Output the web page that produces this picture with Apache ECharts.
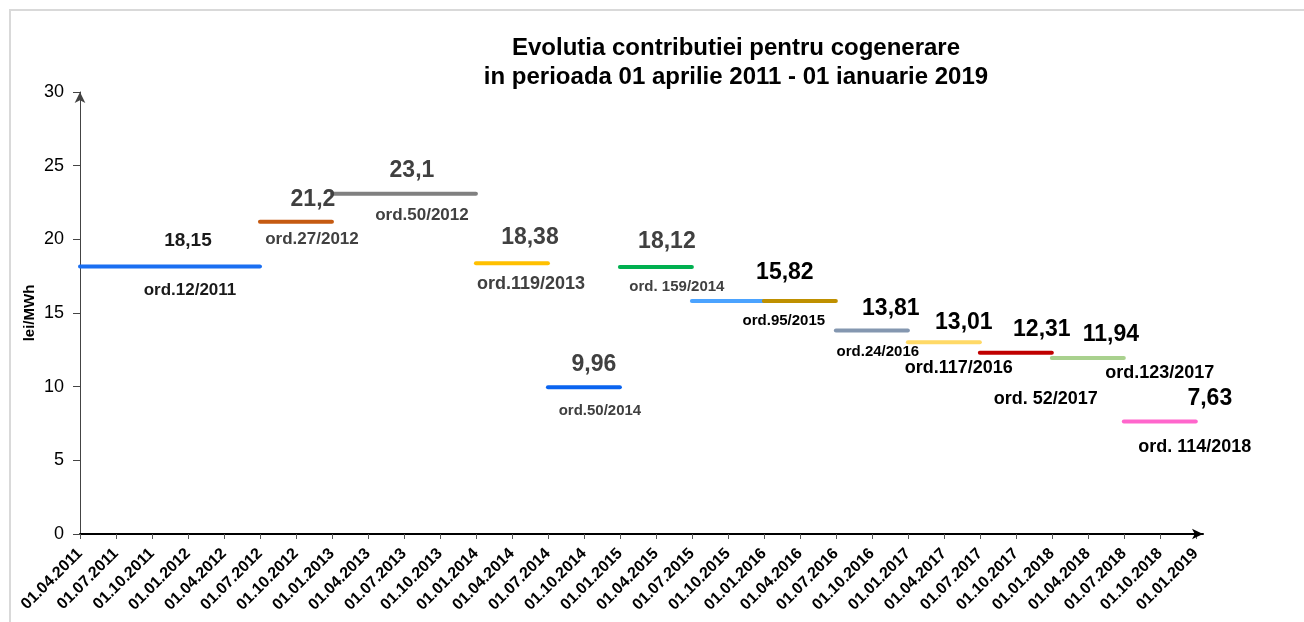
<!DOCTYPE html>
<html>
<head>
<meta charset="utf-8">
<title>Evolutia contributiei pentru cogenerare</title>
<script src="https://cdn.jsdelivr.net/npm/echarts@6/dist/echarts.min.js"></script>
<style>
  body {
    margin: 0;
    background: #fff;
  }
  .frame {
    position: absolute;
    left: 9px;
    top: 9px;
    width: 1295px;
    height: 613px;
    border-top: 2px solid #d9d9d9;
    border-left: 2px solid #d9d9d9;
  }
  #chart {
    position: absolute;
    left: 0;
    top: 0;
    width: 1304px;
    height: 622px;
  }
</style>
</head>
<body>
<div class="frame"></div>
<div id="chart"></div>
<script>
const quarterLabels = [
  "01.04.2011", "01.07.2011", "01.10.2011", "01.01.2012", "01.04.2012", "01.07.2012",
  "01.10.2012", "01.01.2013", "01.04.2013", "01.07.2013", "01.10.2013", "01.01.2014",
  "01.04.2014", "01.07.2014", "01.10.2014", "01.01.2015", "01.04.2015", "01.07.2015",
  "01.10.2015", "01.01.2016", "01.04.2016", "01.07.2016", "01.10.2016", "01.01.2017",
  "01.04.2017", "01.07.2017", "01.10.2017", "01.01.2018", "01.04.2018", "01.07.2018",
  "01.10.2018", "01.01.2019"
];

// each order: start quarter, end quarter (index in quarterLabels), value lei/MWh
const segStart = [0, 5, 7, 11, 13, 15, 17, 19, 21, 23, 25, 27, 29];
const segEnd = [5, 7, 11, 13, 15, 17, 19, 21, 23, 25, 27, 29, 31];
const segValues = [18.15, 21.2, 23.1, 18.38, 9.96, 18.12, 15.82, 15.82, 13.81, 13.01, 12.31, 11.94, 7.63];
const valueLabels = ["18,15", "21,2", "23,1", "18,38", "9,96", "18,12", "", "15,82", "13,81", "13,01", "12,31", "11,94", "7,63"];
const orderLabels = [
  "ord.12/2011", "ord.27/2012", "ord.50/2012", "ord.119/2013", "ord.50/2014", "ord. 159/2014", "",
  "ord.95/2015", "ord.24/2016", "ord.117/2016", "ord. 52/2017", "ord.123/2017", "ord. 114/2018"
];

const yTicks = [0, 5, 10, 15, 20, 25, 30];

// styles
const segColors = [
  "#1a6ff2", "#c55a11", "#808080", "#ffc000", "#0a64f0", "#00b050", "#4ba3ff",
  "#bf9000", "#8497b0", "#ffd966", "#c00000", "#a9d18e", "#ff66cc"
];
const valueOffsets = [[18, -26], [17, -22], [8, -23], [18, -26], [10, -23], [11, -25], [0, 0],
  [-15, -28], [19, -22], [20, -20], [26, -23], [23, -23], [50, -23]];
const orderOffsets = [[20, 24], [16, 18], [18, 22], [19, 21], [16, 24], [21, 20], [0, 0],
  [-16, 20], [6, 21], [15, 26], [30, 46], [72, 15], [35, 25]];
const valueSizes = [19, 23, 23, 23, 23, 23, 23, 23, 23, 23, 23, 23, 23];
const orderSizes = [17, 17, 17, 18, 15, 15, 15, 15, 15, 18, 18, 18, 18];
const textColors = ["#1a1a1a", "#404040", "#404040", "#404040", "#404040", "#404040", "#000",
  "#000", "#000", "#000", "#000", "#000", "#000"];

const FONT = "'Liberation Sans', Arial, sans-serif";

const chart = echarts.init(document.getElementById("chart"));

const series = segValues.map((v, i) => {
  const mid = (segStart[i] + segEnd[i]) / 2;
  const marks = [];
  if (valueLabels[i]) {
    marks.push({
      coord: [mid, v],
      label: {
        formatter: valueLabels[i],
        offset: valueOffsets[i],
        fontSize: valueSizes[i],
        color: textColors[i]
      }
    });
  }
  if (orderLabels[i]) {
    marks.push({
      coord: [mid, v],
      label: {
        formatter: orderLabels[i],
        offset: orderOffsets[i],
        fontSize: orderSizes[i],
        color: textColors[i]
      }
    });
  }
  return {
    type: "line",
    data: [[segStart[i], v], [segEnd[i], v]],
    symbol: "none",
    silent: true,
    animation: false,
    lineStyle: {
      width: 4,
      color: segColors[i],
      cap: "round"
    },
    markPoint: {
      symbol: "circle",
      symbolSize: 0,
      silent: true,
      animation: false,
      label: {
        show: true,
        position: "inside",
        fontFamily: FONT,
        fontWeight: "bold"
      },
      data: marks
    }
  };
});

chart.setOption({
  animation: false,
  title: {
    text: "Evolutia contributiei pentru cogenerare\nin perioada 01 aprilie 2011 - 01 ianuarie 2019",
    left: 731,
    textAlign: "center",
    top: 29,
    textStyle: {
      fontFamily: FONT,
      fontSize: 24,
      fontWeight: "bold",
      color: "#000",
      lineHeight: 29
    }
  },
  grid: {
    left: 80,
    right: 101,
    top: 92,
    bottom: 88
  },
  xAxis: {
    type: "value",
    min: 0,
    max: 31.2,
    splitLine: { show: false },
    axisLine: {
      lineStyle: { color: "#000", width: 2 },
      symbol: ["none", "arrow"],
      symbolSize: [8, 11]
    },
    axisTick: {
      customValues: quarterLabels.map((_, i) => i),
      length: 5,
      lineStyle: { color: "#555" }
    },
    axisLabel: {
      customValues: quarterLabels.map((_, i) => i),
      formatter: (v) => quarterLabels[v],
      rotate: 45,
      margin: 17,
      fontFamily: FONT,
      fontSize: 16,
      fontWeight: "bold",
      color: "#000"
    }
  },
  yAxis: {
    type: "value",
    min: 0,
    max: 30,
    interval: 5,
    name: "lei/MWh",
    nameLocation: "middle",
    nameRotate: 90,
    nameGap: 43,
    nameMoveOverlap: false,
    nameTextStyle: {
      fontFamily: FONT,
      fontSize: 15,
      fontWeight: "bold",
      color: "#000"
    },
    splitLine: { show: false },
    axisLine: {
      show: true,
      lineStyle: { color: "#444", width: 1 },
      symbol: ["none", "arrow"],
      symbolSize: [8, 11]
    },
    axisTick: {
      show: true,
      customValues: yTicks,
      length: 7,
      lineStyle: { color: "#444" }
    },
    axisLabel: {
      customValues: yTicks,
      margin: 16,
      fontFamily: FONT,
      fontSize: 18,
      color: "#000"
    }
  },
  series: series
});
</script>
</body>
</html>
